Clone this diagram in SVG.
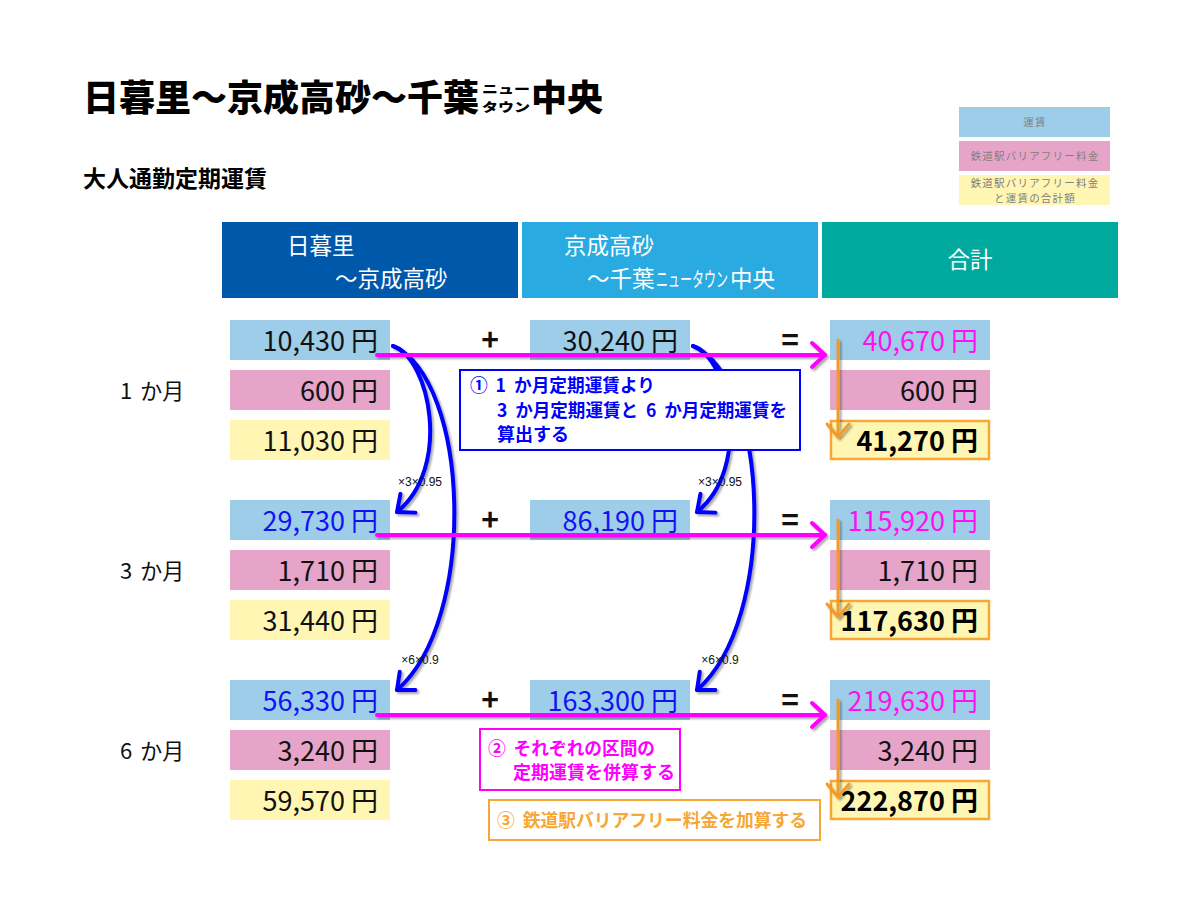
<svg xmlns="http://www.w3.org/2000/svg" width="1200" height="900" viewBox="0 0 1200 900">
<style>
text{font-family:"Noto Sans CJK JP","Noto Sans CJK SC",sans-serif;}
.t{font-weight:900;fill:#000;}
.h{fill:#fff;font-size:22.5px;}
.hk{fill:#fff;font-size:20px;}
.lg{font-size:10.5px;fill:#808080;text-anchor:middle;letter-spacing:1.2px;}
.fare{fill:#9DCDE8;}
.bf{fill:#E6A5C8;}
.sum{fill:#FFF6B3;}
.tot{fill:#FFF6B3;stroke:#F7A736;stroke-width:2.5;}
.n{font-size:27px;text-anchor:end;fill:#111;}
.b{fill:#1212F5;}
.m{fill:#FF10F0;}
.k{font-weight:bold;font-size:27px;fill:#000;}
.mo{font-size:22px;fill:#111;word-spacing:3px;}
.op{font-size:30px;font-weight:bold;text-anchor:middle;fill:#111;}
.x{font-family:"Liberation Sans",Arial,sans-serif;font-size:12px;text-anchor:middle;fill:#111;}
.arc{fill:none;stroke:#0000FF;stroke-width:4;stroke-linecap:round;marker-end:url(#ab);}
.mg{fill:none;stroke:#FF00FF;stroke-width:4;stroke-linecap:round;marker-end:url(#am);}
.or{fill:none;stroke:#F39A2E;stroke-width:3;stroke-linecap:round;marker-end:url(#ao);}
.c1{fill:#fff;stroke:#0000FF;stroke-width:2;}
.c2{fill:#fff;stroke:#FF00FF;stroke-width:2;}
.c3{fill:#fff;stroke:#F7A736;stroke-width:2;}
.ct{font-size:18px;font-weight:bold;word-spacing:4px;}
</style>
<defs>
<filter id="sh" filterUnits="userSpaceOnUse" x="0" y="0" width="1200" height="900">
<feDropShadow dx="2" dy="2" stdDeviation="1.2" flood-color="#000" flood-opacity="0.35"/>
</filter>
<marker id="ab" viewBox="0 0 30 30" refX="22" refY="15" markerWidth="30" markerHeight="30" markerUnits="userSpaceOnUse" orient="auto">
<path d="M8,3 L22,15 L8,27" fill="none" stroke="#0000FF" stroke-width="4" stroke-linecap="round" stroke-linejoin="round"/>
</marker>
<marker id="am" viewBox="0 0 30 30" refX="22" refY="15" markerWidth="30" markerHeight="30" markerUnits="userSpaceOnUse" orient="auto">
<path d="M9,3 L22,15 L9,27" fill="none" stroke="#FF00FF" stroke-width="4" stroke-linecap="round" stroke-linejoin="round"/>
</marker>
<marker id="ao" viewBox="0 0 30 30" refX="22" refY="15" markerWidth="30" markerHeight="30" markerUnits="userSpaceOnUse" orient="auto">
<path d="M9,4 L22,15 L9,26" fill="none" stroke="#F39A2E" stroke-width="3" stroke-linecap="round" stroke-linejoin="round"/>
</marker>
</defs>
<rect width="1200" height="900" fill="#fff"/>

<g id="title">
<text class="t" x="83" y="111" font-size="36">日暮里～京成高砂～千葉</text>
<text class="t" x="482" y="93.5" font-size="12.5" textLength="48" lengthAdjust="spacingAndGlyphs">ニュー</text>
<text class="t" x="482" y="112" font-size="12.5" textLength="48" lengthAdjust="spacingAndGlyphs">タウン</text>
<text class="t" x="531" y="111" font-size="36">中央</text>
<text x="83" y="187" font-size="23" font-weight="bold" fill="#000">大人通勤定期運賃</text>
</g>

<g id="legend">
<rect class="fare" x="959" y="107" width="151" height="30"/>
<text class="lg" x="1035" y="126">運賃</text>
<rect class="bf" x="959" y="141" width="151" height="30"/>
<text class="lg" x="1035" y="160">鉄道駅バリアフリー料金</text>
<rect class="sum" x="959" y="175" width="151" height="30"/>
<text class="lg" x="1035" y="186.5">鉄道駅バリアフリー料金</text>
<text class="lg" x="1035" y="202">と運賃の合計額</text>
</g>

<g id="header1">
<rect x="222" y="222" width="296" height="76" fill="#0058AA"/>
<text class="h" x="287" y="254">日暮里</text>
<text class="h" x="335" y="287">～京成高砂</text>
</g>
<g id="header2">
<rect x="522" y="222" width="296" height="76" fill="#29ABE2"/>
<text class="h" x="564" y="254">京成高砂</text>
<text class="h" x="587" y="287">～千葉</text>
<text class="hk" transform="translate(656,287) scale(0.6,1)">ニュータウン</text>
<text class="h" x="730" y="287">中央</text>
</g>
<g id="header3">
<rect x="822" y="222" width="296" height="76" fill="#00A99D"/>
<text class="h" x="970" y="268" text-anchor="middle">合計</text>
</g>

<g id="month1"><text class="mo" x="120" y="399">1 か月</text></g>
<g id="month3"><text class="mo" x="120" y="579">3 か月</text></g>
<g id="month6"><text class="mo" x="120" y="759">6 か月</text></g>

<g id="r1-left">
<rect class="fare" x="230" y="320" width="160" height="40"/><text class="n" x="378" y="351">10,430 円</text>
<rect class="bf" x="230" y="370" width="160" height="40"/><text class="n" x="378" y="401">600 円</text>
<rect class="sum" x="230" y="420" width="160" height="40"/><text class="n" x="378" y="451">11,030 円</text>
</g>
<g id="r1-mid">
<rect class="fare" x="530" y="320" width="160" height="40"/><text class="n" x="678" y="351">30,240 円</text>
</g>
<g id="r1-total">
<rect class="fare" x="830" y="320" width="160" height="40"/><text class="n m" x="978" y="351">40,670 円</text>
<rect class="bf" x="830" y="370" width="160" height="40"/><text class="n" x="978" y="401">600 円</text>
<rect class="tot" x="831" y="421" width="158" height="38"/><text class="n k" x="978" y="451">41,270 円</text>
</g>

<g id="r3-left">
<rect class="fare" x="230" y="500" width="160" height="40"/><text class="n b" x="378" y="531">29,730 円</text>
<rect class="bf" x="230" y="550" width="160" height="40"/><text class="n" x="378" y="581">1,710 円</text>
<rect class="sum" x="230" y="600" width="160" height="40"/><text class="n" x="378" y="631">31,440 円</text>
</g>
<g id="r3-mid">
<rect class="fare" x="530" y="500" width="160" height="40"/><text class="n b" x="678" y="531">86,190 円</text>
</g>
<g id="r3-total">
<rect class="fare" x="830" y="500" width="160" height="40"/><text class="n m" x="978" y="531">115,920 円</text>
<rect class="bf" x="830" y="550" width="160" height="40"/><text class="n" x="978" y="581">1,710 円</text>
<rect class="tot" x="831" y="601" width="158" height="38"/><text class="n k" x="978" y="631">117,630 円</text>
</g>

<g id="r6-left">
<rect class="fare" x="230" y="680" width="160" height="40"/><text class="n b" x="378" y="711">56,330 円</text>
<rect class="bf" x="230" y="730" width="160" height="40"/><text class="n" x="378" y="761">3,240 円</text>
<rect class="sum" x="230" y="780" width="160" height="40"/><text class="n" x="378" y="811">59,570 円</text>
</g>
<g id="r6-mid">
<rect class="fare" x="530" y="680" width="160" height="40"/><text class="n b" x="678" y="711">163,300 円</text>
</g>
<g id="r6-total">
<rect class="fare" x="830" y="680" width="160" height="40"/><text class="n m" x="978" y="711">219,630 円</text>
<rect class="bf" x="830" y="730" width="160" height="40"/><text class="n" x="978" y="761">3,240 円</text>
<rect class="tot" x="831" y="781" width="158" height="38"/><text class="n k" x="978" y="811">222,870 円</text>
</g>

<g id="operators">
<text class="op" x="490" y="351">+</text>
<text class="op" x="790" y="351">=</text>
<text class="op" x="490" y="531">+</text>
<text class="op" x="790" y="531">=</text>
<text class="op" x="490" y="711">+</text>
<text class="op" x="790" y="711">=</text>
</g>

<g id="connectors" filter="url(#sh)">
<path class="arc" d="M393,346 C430,358 452,468 397,512"/>
<path class="arc" d="M393,346 C470,380 478,620 397,690"/>
<path class="arc" d="M693,346 C730,358 752,468 697,512"/>
<path class="arc" d="M693,346 C770,380 778,620 697,690"/>
<path class="mg" d="M377,355 L825,355"/>
<path class="mg" d="M377,535 L825,535"/>
<path class="mg" d="M377,715 L825,715"/>
<path class="or" d="M838,340 L838,437"/>
<path class="or" d="M838,520 L838,617"/>
<path class="or" d="M838,700 L838,797"/>
</g>

<g id="factors">
<text class="x" x="420" y="486">×3×0.95</text>
<text class="x" x="720" y="486">×3×0.95</text>
<text class="x" x="420" y="664">×6×0.9</text>
<text class="x" x="720" y="664">×6×0.9</text>
</g>

<g id="note1">
<rect class="c1" x="460" y="370" width="340" height="80"/>
<text class="ct" fill="#0000FF" x="470" y="392" textLength="185" lengthAdjust="spacingAndGlyphs">① 1 か月定期運賃より</text>
<text class="ct" fill="#0000FF" x="497" y="417" textLength="290" lengthAdjust="spacingAndGlyphs">3 か月定期運賃と 6 か月定期運賃を</text>
<text class="ct" fill="#0000FF" x="497" y="441">算出する</text>
</g>
<g id="note2">
<rect class="c2" x="480" y="729" width="200" height="61"/>
<text class="ct" fill="#FF00FF" x="488" y="755" textLength="167" lengthAdjust="spacingAndGlyphs">② それぞれの区間の</text>
<text class="ct" fill="#FF00FF" x="513" y="779">定期運賃を併算する</text>
</g>
<g id="note3">
<rect class="c3" x="489" y="800" width="331" height="40"/>
<text class="ct" fill="#F7A736" x="497" y="827" textLength="310" lengthAdjust="spacingAndGlyphs">③ 鉄道駅バリアフリー料金を加算する</text>
</g>
</svg>
